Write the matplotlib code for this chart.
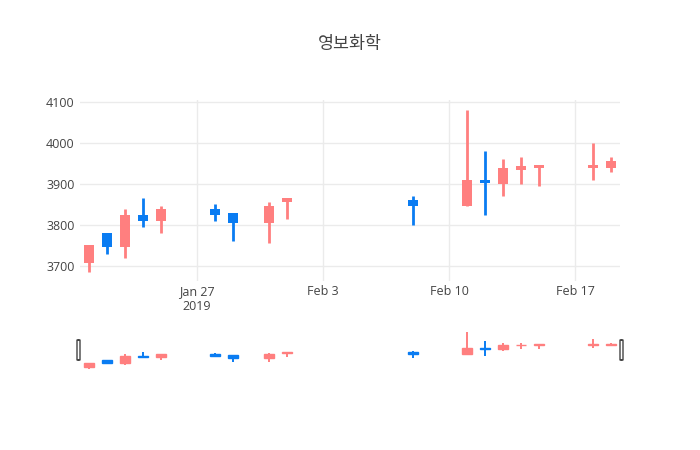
import matplotlib
matplotlib.use("Agg")
import matplotlib.pyplot as plt
from matplotlib.patches import FancyBboxPatch
import pandas as pd

plt.rcParams['font.family'] = ['Open Sans', 'Noto Sans CJK KR', 'DejaVu Sans']

title = "영보화학"
dates = ["2019-01-21", "2019-01-22", "2019-01-23", "2019-01-24", "2019-01-25",
         "2019-01-28", "2019-01-29", "2019-01-31", "2019-02-01", "2019-02-08",
         "2019-02-11", "2019-02-12", "2019-02-13", "2019-02-14", "2019-02-15",
         "2019-02-18", "2019-02-19"]
opens = [3707, 3780, 3745, 3825, 3810, 3840, 3830, 3805, 3855, 3860,
         3845, 3910, 3900, 3935, 3940, 3940, 3940]
highs = [3750, 3780, 3840, 3865, 3845, 3850, 3830, 3855, 3865, 3870,
         4080, 3980, 3960, 3965, 3945, 4000, 3965]
lows = [3684, 3730, 3720, 3795, 3780, 3810, 3760, 3755, 3815, 3800,
        3845, 3825, 3870, 3900, 3895, 3910, 3930]
closes = [3750, 3745, 3825, 3810, 3840, 3825, 3805, 3845, 3865, 3845,
          3910, 3902, 3940, 3945, 3946, 3946, 3955]
tick_dates = ["2019-01-27", "2019-02-03", "2019-02-10", "2019-02-17"]
tick_labels = ["Jan 27\n2019", "Feb 3", "Feb 10", "Feb 17"]
y_ticks = [3700, 3800, 3900, 4000, 4100]

up_color = "#ff7f7f"
down_color = "#0a7cf2"

df = pd.DataFrame({"date": pd.to_datetime(dates), "open": opens, "high": highs,
                   "low": lows, "close": closes})
colors = [up_color if c >= o else down_color for o, c in zip(df["open"], df["close"])]

fig = plt.figure(figsize=(7, 4.5), dpi=100)
ax = fig.add_axes([80 / 700, 1 - 281 / 450, 540 / 700, 181 / 450])
slider = fig.add_axes([80 / 700, 1 - 370 / 450, 540 / 700, 40 / 450])

xmin = pd.Timestamp("2019-01-20 12:00")
xmax = pd.Timestamp("2019-02-19 12:00")


def draw_candles(a, wick_lw, edge_lw):
    a.vlines(df["date"], df["low"], df["high"], colors=colors, linewidth=wick_lw, zorder=3)
    a.bar(df["date"], df["close"] - df["open"], bottom=df["open"], width=0.6,
          color=colors, edgecolor=colors, linewidth=edge_lw, zorder=4)


draw_candles(ax, 2.0, 0)
ax.set_xlim(xmin, xmax)
ax.set_ylim(3663, 4105)
ax.set_yticks(y_ticks)
ax.set_yticklabels([str(v) for v in y_ticks])
ax.set_xticks(pd.to_datetime(tick_dates))
ax.set_xticklabels(tick_labels)
ax.grid(True, color="#ebebeb", linewidth=1)
ax.set_axisbelow(True)
for s in ax.spines.values():
    s.set_visible(False)
ax.tick_params(length=0, labelsize=9, labelcolor="#444444", pad=4)
ax.tick_params(axis="x", pad=3)

draw_candles(slider, 1.4, 1.0)
slider.set_xlim(xmin, xmax)
slider.set_ylim(3670, 4102)
slider.set_xticks([])
slider.set_yticks([])
for s in slider.spines.values():
    s.set_visible(False)

# range slider grab handles
for hx in (-3 / 540, 1.0):
    slider.add_patch(FancyBboxPatch((hx, 0.25), 3 / 540, 0.5,
                                    boxstyle="round,pad=0,rounding_size=0.004",
                                    transform=slider.transAxes, clip_on=False,
                                    facecolor="white", edgecolor="#444444",
                                    linewidth=1, zorder=6))

fig.text(0.5, 1 - 44 / 450, title, ha="center", va="center", fontsize=12.5,
         color="#444444", family=["Noto Sans CJK KR", "DejaVu Sans"])

fig.savefig("out.png", dpi=100)
